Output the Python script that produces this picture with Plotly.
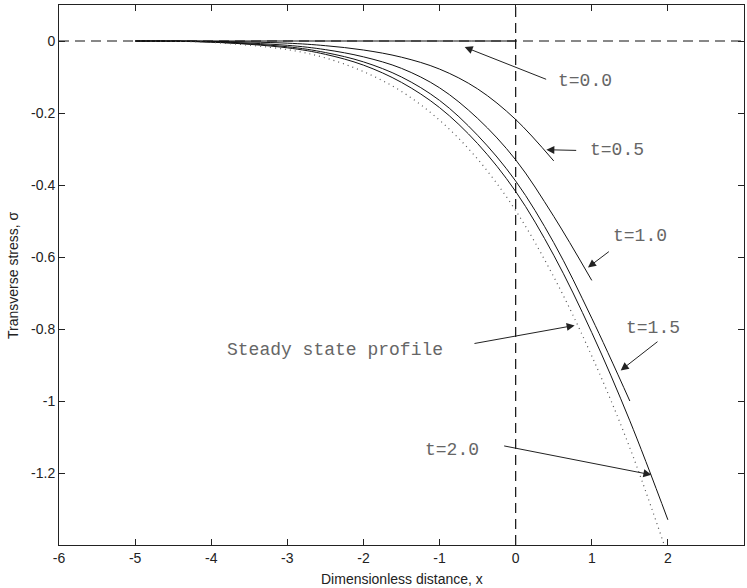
import plotly.graph_objects as go

# Data
x_t00 = [-5, -4, -3, -2, -1, 0]
s_t00 = [0, 0, 0, 0, 0, 0]

x_t05 = [-5, -4, -3, -2.5, -2, -1.5, -1, -0.5, 0, 0.5]
s_t05 = [0, -0.001, -0.006, -0.013, -0.025, -0.045, -0.078, -0.133, -0.218, -0.333]

x_t10 = [-5, -4, -3, -2.5, -2, -1.5, -1, -0.5, 0, 0.5, 1.0]
s_t10 = [0, -0.002, -0.012, -0.024, -0.044, -0.076, -0.130, -0.215, -0.330, -0.487, -0.665]

x_t15 = [-5, -4, -3, -2.5, -2, -1.5, -1, -0.5, 0, 0.5, 1.0, 1.5]
s_t15 = [0, -0.003, -0.016, -0.032, -0.058, -0.100, -0.165, -0.262, -0.389, -0.560, -0.770, -1.000]

x_t20 = [-5, -4, -3, -2.5, -2, -1.5, -1, -0.5, 0, 0.5, 1.0, 1.5, 2.0]
s_t20 = [0, -0.003, -0.019, -0.037, -0.067, -0.115, -0.185, -0.285, -0.418, -0.595, -0.810, -1.055, -1.330]

x_ss = [-5, -4, -3, -2.5, -2, -1.5, -1, -0.5, 0, 0.5, 1.0, 1.5, 2.0]
s_ss = [0, -0.004, -0.024, -0.047, -0.085, -0.140, -0.220, -0.328, -0.471, -0.655, -0.875, -1.130, -1.430]

x_ticks = [-6, -5, -4, -3, -2, -1, 0, 1, 2, 3]
y_ticks = [0, -0.2, -0.4, -0.6, -0.8, -1.0, -1.2]
y_tick_labels = ["0", "-0.2", "-0.4", "-0.6", "-0.8", "-1", "-1.2"]

# labels: (text, text_x, text_y, tail_x, tail_y, head_x, head_y)
labels = [
    ("t=0.0", 0.907, -0.110, 0.42, -0.108, -0.67, -0.017),
    ("t=0.5", 1.327, -0.302, 0.815, -0.304, 0.403, -0.302),
    ("t=1.0", 1.63, -0.543, 1.244, -0.582, 0.95, -0.629),
    ("t=1.5", 1.80, -0.796, 1.883, -0.832, 1.38, -0.915),
    ("Steady state profile", -2.372, -0.857, -0.561, -0.841, 0.775, -0.790),
    ("t=2.0", -0.84, -1.135, -0.171, -1.124, 1.783, -1.205),
]

fig = go.Figure()

line = dict(color="#111111", width=1)
for xs, ys in [(x_t00, s_t00), (x_t05, s_t05), (x_t10, s_t10),
               (x_t15, s_t15), (x_t20, s_t20)]:
    fig.add_trace(go.Scatter(x=xs, y=ys, mode="lines", line=dict(line, shape="spline", smoothing=1.0),
                             showlegend=False, hoverinfo="skip"))

fig.add_trace(go.Scatter(x=x_ss, y=s_ss, mode="lines",
                         line=dict(color="#555555", width=1.2, dash="1px,4px", shape="spline", smoothing=1.0),
                         showlegend=False, hoverinfo="skip"))

# dashed reference lines
fig.add_shape(type="line", xref="paper", yref="y", x0=0, x1=1, y0=0, y1=0,
              line=dict(color="#111111", width=1, dash="10px,6px"), layer="below")
fig.add_shape(type="line", xref="x", yref="paper", x0=0, x1=0, y0=0, y1=1,
              line=dict(color="#111111", width=1.2, dash="10px,6px"), layer="below")

annotations = []
mono = dict(family="Liberation Mono, Courier New, monospace", size=18, color="#666666")
for text, tx, ty, ax, ay, hx, hy in labels:
    annotations.append(dict(x=tx, y=ty, xref="x", yref="y", text=text, showarrow=False,
                            font=mono, xanchor="center", yanchor="middle"))
    annotations.append(dict(x=hx, y=hy, xref="x", yref="y", ax=ax, ay=ay, axref="x", ayref="y",
                            text="", showarrow=True, arrowhead=2, arrowsize=1.6,
                            arrowwidth=1, arrowcolor="#222222", standoff=0, startstandoff=0))

sans = dict(family="Liberation Sans, Arial, sans-serif", size=14, color="#222222")
annotations.append(dict(x=0.5, y=0, xref="paper", yref="paper", yshift=-34,
                        text="Dimensionless distance, x", showarrow=False, font=sans,
                        xanchor="center", yanchor="middle"))
annotations.append(dict(x=0, y=0.5, xref="paper", yref="paper", xshift=-46,
                        text="Transverse stress, σ", showarrow=False, font=sans, textangle=-90,
                        xanchor="center", yanchor="middle"))

axis_common = dict(showline=True, linecolor="#222222", linewidth=1, mirror="ticks",
                   ticks="inside", ticklen=6, tickwidth=1, tickcolor="#222222",
                   showgrid=False, zeroline=False, tickfont=sans)

fig.update_layout(
    width=747, height=588,
    margin=dict(l=59, r=3, t=5, b=43),
    plot_bgcolor="white", paper_bgcolor="white",
    xaxis=dict(axis_common, range=[-6, 3], tickvals=x_ticks, ticktext=[str(v) for v in x_ticks]),
    yaxis=dict(axis_common, range=[-1.4, 0.1], tickvals=y_ticks, ticktext=y_tick_labels),
    annotations=annotations,
)

fig.write_html("out.html")
